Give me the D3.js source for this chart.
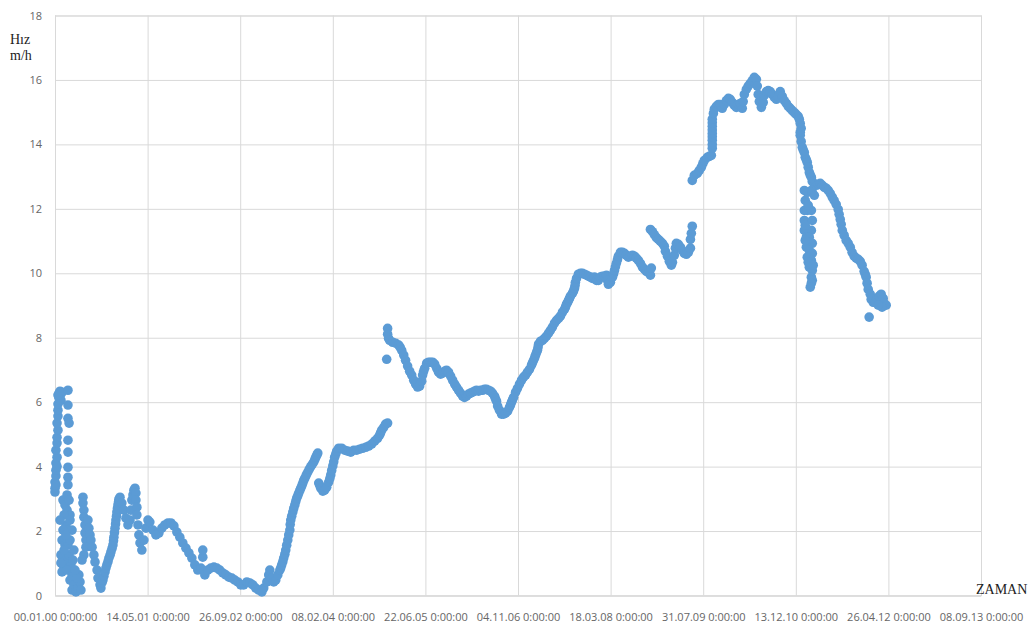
<!DOCTYPE html>
<html>
<head>
<meta charset="utf-8">
<script src="https://cdn.jsdelivr.net/npm/d3@7"></script>
<style>
  html, body { margin: 0; padding: 0; background: #fff; }
  svg { display: block; }
</style>
</head>
<body>
<svg id="chart" width="1035" height="627"></svg>
<script>
// Axis tick positions (day serials) and their labels
const tickDays = [0, 500, 1000, 1500, 2000, 2500, 3000, 3500, 4000, 4500, 5000];
const tickLabels = [
  "00.01.00 0:00:00", "14.05.01 0:00:00", "26.09.02 0:00:00", "08.02.04 0:00:00",
  "22.06.05 0:00:00", "04.11.06 0:00:00", "18.03.08 0:00:00", "31.07.09 0:00:00",
  "13.12.10 0:00:00", "26.04.12 0:00:00", "08.09.13 0:00:00"
];
const speedTicks = [0, 2, 4, 6, 8, 10, 12, 14, 16, 18];

// Readings as [day, speed m/h]
const startupBurst = [
  [0,3.33],[0,3.52],[0,3.21],[5,3.43],[5,3.71],[5,3.89],[5,4.11],[11,4.0],[11,4.29],[5,4.51],
  [11,4.73],[11,4.91],[16,5.13],[11,5.35],[16,5.57],[16,5.75],[16,5.94],[22,6.12],[22,6.28],
  [27,6.34],[32,6.25],[38,6.31],[32,6.06],[16,6.22],
  [70,6.37],[70,5.91],[70,5.50],[76,5.35],[70,4.82],[70,4.45],[70,3.98],[70,3.67],[70,3.43],[65,3.12],
  [43,2.96],[54,2.81],[65,2.65],[76,2.96],[81,2.50],[49,2.50],[59,2.19],[70,2.03],[43,2.03],[38,1.72],
  [54,1.57],[70,1.57],[81,1.72],[32,1.26],[43,0.95],[38,0.73],[59,1.10],[76,1.26],[86,0.95],[65,0.79],
  [97,1.10],[92,0.64],[81,0.48],[102,0.33],[92,0.17],[113,0.11],[124,0.23],[135,0.42],[129,0.64],
  [140,0.17],[119,0.54],[108,0.79],[102,1.41],[92,2.03],[81,2.34],[59,1.88],[49,1.41],[27,2.34],[32,1.01],
  [151,3.05],[151,2.87],[156,2.65],[156,2.43],[162,2.19],[162,1.94],[167,1.72],[167,1.50],[156,1.26],[146,1.10]
];

const lowPeriod = [
  [178,2.34],[183,2.09],[189,1.88],[194,1.72],[200,1.50],[210,1.26],[216,1.04],[227,0.79],[232,0.54],
  [243,0.33],[248,0.23],[254,0.40],[259,0.48],[264,0.60],[270,0.73],[275,0.85],[280,0.95],[286,1.05],
  [291,1.16],[297,1.25],[302,1.35],[308,1.46],[313,1.57],[316,1.70],[318,1.81],[321,1.95],
  [324,2.09],[327,2.22],[329,2.34],[332,2.46],[334,2.59],[337,2.70],[340,2.81],[343,2.90],[345,2.99],
  [351,3.05],[361,2.87],[372,2.65],[383,2.40],
  [394,2.19],[405,2.34],[410,2.65],[415,2.96],[421,3.12],[426,3.27],[432,3.33],[437,3.18],[437,2.96],
  [442,2.74],[442,2.50],[448,2.19],[453,1.88],[459,1.63],[469,1.41],[480,1.72],[491,2.09],[502,2.34],
  [512,2.28],[529,2.03],[545,1.88],[561,1.94],[577,2.09],[593,2.19],[610,2.25],[626,2.25],[642,2.16],
  [658,1.97],[674,1.81],[690,1.63],[707,1.47],[723,1.32],[739,1.16],[755,0.95],[771,0.79],[788,0.85],
  [798,1.19],[798,1.41],[809,0.64],[825,0.79],[841,0.85],[858,0.88],[874,0.85],[890,0.79],[906,0.70],
  [922,0.64],[939,0.57],[955,0.54],[971,0.48],[987,0.42],[1003,0.33],[1019,0.33],[1036,0.42],[1052,0.39],
  [1068,0.33],[1084,0.23],[1100,0.17],[1117,0.11],[1127,0.23],[1144,0.42],[1154,0.64],[1160,0.79],
  [1171,0.54],[1181,0.42],[1192,0.48],[1203,0.64],[1214,0.79],[1219,0.86],[1224,0.95],[1230,1.05],
  [1235,1.16],[1241,1.28],[1246,1.41],[1251,1.56],[1257,1.72],[1262,1.88],[1268,2.03],[1270,2.20],
  [1273,2.34],[1278,2.46],[1284,2.59],[1289,2.70],[1295,2.81],[1300,2.92],[1305,3.02],[1311,3.10],
  [1316,3.18],[1322,3.26],[1327,3.33],[1333,3.41],[1338,3.49],[1343,3.57],[1349,3.64],[1357,3.74],
  [1365,3.83],[1373,3.92],[1381,4.0],[1389,4.07],[1397,4.14],[1403,4.22],[1408,4.29],[1414,4.36],[1419,4.42]
];

const plateau = [
  [1424,3.49],[1430,3.41],[1435,3.33],[1446,3.24],[1456,3.27],[1467,3.36],[1478,3.52],[1484,3.63],
  [1489,3.74],[1494,3.88],[1500,4.02],[1505,4.15],[1510,4.29],[1516,4.39],[1521,4.48],[1532,4.57],
  [1548,4.57],[1564,4.51],[1580,4.48],[1597,4.45],[1613,4.51],[1629,4.51],[1645,4.54],[1661,4.57],
  [1678,4.60],[1694,4.64],[1710,4.70],[1726,4.79],[1742,4.88],[1753,4.98],[1758,5.05],[1764,5.13],
  [1775,5.22],[1785,5.32],[1796,5.35]
];

const midRun = [
  [1796,8.29],[1796,8.11],[1791,7.33],[1801,7.98],[1807,7.92],[1823,7.86],[1839,7.83],[1856,7.77],[1864,7.70],
  [1872,7.61],[1883,7.46],[1893,7.30],[1904,7.12],[1915,6.96],[1926,6.84],[1937,6.68],[1947,6.56],[1958,6.47],
  [1969,6.50],[1980,6.65],[1985,6.84],[1990,6.95],[1996,7.05],[2007,7.21],[2017,7.24],[2028,7.24],[2039,7.24],
  [2050,7.18],[2061,7.05],[2071,6.93],[2082,6.87],[2093,6.90],[2104,6.96],[2114,6.99],[2125,6.93],
  [2136,6.81],[2147,6.68],[2158,6.56],[2168,6.47],[2179,6.37],[2190,6.28],[2201,6.19],[2211,6.15],
  [2222,6.19],[2233,6.25],[2244,6.28],[2255,6.31],[2265,6.34],[2276,6.37],[2287,6.34],[2298,6.37],
  [2309,6.37],[2319,6.40],[2330,6.40],[2341,6.37],[2352,6.34],[2362,6.28],[2373,6.19],[2378,6.11],[2384,6.03],
  [2390,5.88],[2400,5.75],[2411,5.63],[2422,5.63],[2433,5.66],[2444,5.72],[2454,5.84],[2460,5.92],[2465,6.0],
  [2471,6.08],[2476,6.15],[2487,6.31],[2497,6.43],[2508,6.56],[2519,6.68],[2530,6.78],[2541,6.84],[2551,6.93],
  [2562,7.02],[2573,7.15],[2578,7.22],[2584,7.30],[2590,7.38],[2595,7.46],[2600,7.54],[2605,7.61],[2608,7.70],
  [2611,7.80],[2622,7.89],[2632,7.92],
  [2643,7.98],[2654,8.05],[2665,8.14],[2675,8.23],[2686,8.33],[2697,8.45],[2708,8.54],[2719,8.60],
  [2729,8.67],[2740,8.79],[2751,8.88],[2757,8.96],[2762,9.04],[2768,9.10],[2773,9.16],[2778,9.22],
  [2783,9.29],[2794,9.38],[2800,9.45],[2805,9.53],[2808,9.62],
  [2810,9.72],[2816,9.84],[2826,9.97],[2837,10.0],[2848,10.0],[2859,9.97],[2870,9.94],[2880,9.91],
  [2891,9.88],[2902,9.84],[2913,9.88],[2924,9.78],[2934,9.78],[2945,9.88],[2956,9.91],[2967,9.91],
  [2978,9.94],[2983,9.78],[2988,9.66],[2999,9.72],[3010,9.88],[3016,9.98],[3021,10.09],[3026,10.20],
  [3031,10.31],[3037,10.42],[3042,10.53],
  [3053,10.65],[3064,10.65],[3075,10.62],[3085,10.56],[3096,10.50],[3107,10.53],[3118,10.56],
  [3129,10.53],[3139,10.47],[3150,10.40],[3161,10.31],[3172,10.19],[3183,10.12],[3193,10.06],
  [3204,10.03],[3215,9.94],[3220,10.16]
];

const riseRun = [
  [3215,11.36],[3226,11.29],[3236,11.20],[3247,11.11],[3258,11.05],[3269,10.99],[3280,10.93],[3290,10.84],
  [3296,10.68],[3307,10.53],[3317,10.37],[3328,10.25],[3334,10.34],[3344,10.56],[3350,10.78],[3355,10.93],
  [3366,10.90],[3377,10.81],[3387,10.71],[3398,10.62],[3409,10.59],[3420,10.65],[3431,10.78],[3431,11.05],
  [3436,11.24],[3441,11.46],
  [3441,12.88],[3452,13.04],[3468,13.10],[3479,13.19],[3490,13.29],[3498,13.40],[3506,13.50],[3522,13.60],[3533,13.63],
  [3544,13.66],[3549,13.88],[3549,14.0],[3549,14.13],[3549,14.24],[3549,14.34],[3549,14.45],[3549,14.56],
  [3549,14.67],[3549,14.78],[3555,14.96],[3560,15.09],
  [3571,15.18],[3582,15.24],[3592,15.24],[3603,15.12],[3614,15.24],[3625,15.36],[3636,15.43],[3646,15.40],
  [3657,15.30],[3668,15.21],[3679,15.15],[3690,15.24],[3700,15.27],[3711,15.12],[3716,15.33],[3722,15.55],
  [3733,15.71],[3743,15.81],[3754,15.89],[3765,15.98],[3776,16.08],[3787,16.02],[3792,15.81],[3797,15.55],
  [3803,15.33],[3814,15.15],[3824,15.30],[3830,15.52],[3841,15.64],[3851,15.67],[3862,15.64],[3873,15.55],
  [3884,15.46],[3895,15.40],[3905,15.49],[3916,15.64],[3927,15.49],[3938,15.36],[3949,15.27],[3959,15.18],
  [3970,15.12],[3981,15.05],[3992,14.99],[4002,14.93],[4013,14.87],[4019,14.78],[4024,14.65],[4029,14.50]
];

const declineRun = [
  [4024,14.38],[4024,14.28],[4029,14.09],[4035,13.91],[4040,13.83],[4046,13.75],[4051,13.60],[4057,13.52],
  [4062,13.44],[4067,13.29],[4073,13.13],[4078,13.05],
  [4084,12.98],[4089,12.85],[4100,12.76],[4111,12.73],[4121,12.76],[4132,12.79],[4143,12.73],[4154,12.67],
  [4164,12.64],[4175,12.57],[4186,12.48],[4197,12.36],[4207,12.26],[4218,12.14],[4229,11.98],[4234,11.83],
  [4240,11.67],[4245,11.52],[4251,11.33],[4261,11.18],[4272,11.02],[4283,10.93],[4294,10.81],[4304,10.65],
  [4315,10.53],[4326,10.47],[4337,10.43],[4348,10.37],[4358,10.25],[4369,10.06],[4375,9.97],[4380,9.88],[4385,9.69],
  [4391,9.50],[4402,9.35],[4407,9.19],[4418,9.10],[4428,9.10],[4439,9.22],[4450,9.29],[4461,9.35],
  [4472,9.22],[4477,9.07],[4488,9.01],[4466,8.95],[4445,9.01],[4396,8.64]
];

const scatterDrop = [
  [4046,12.57],[4062,12.51],[4084,12.57],[4089,12.51],[4100,12.42],[4046,11.95],[4062,11.95],[4084,11.95],
  [4046,11.64],[4089,11.64],[4046,11.33],[4084,11.33],[4057,11.12],[4073,11.12],[4089,10.93],[4057,10.81],
  [4073,10.71],[4089,10.62],[4062,10.50],[4084,10.40],[4073,10.19],[4089,10.09],[4084,9.88],[4089,9.78],
  [4084,9.69],[4078,9.57],[4051,12.26],[4067,12.11],[4051,11.02],[4067,10.34],[4094,10.25],[4051,11.49]
];

const readings = [].concat(startupBurst, lowPeriod, plateau, midRun, riseRun, declineRun, scatterDrop);

const svg = d3.select("#chart");
const plotLeft = 55, plotRight = 981, plotTop = 15.5, plotBottom = 595.5;

const x = d3.scaleLinear().domain([0, 5000]).range([plotLeft, plotRight]);
const y = d3.scaleLinear().domain([0, 18]).range([plotBottom, plotTop]);

const gridColor = "#d9d9d9";
const labelFont = "'Open Sans', sans-serif";

// Horizontal grid + speed labels
const yAxis = d3.axisLeft(y)
  .tickValues(speedTicks)
  .tickSize(-(plotRight - plotLeft))
  .tickPadding(13)
  .tickFormat(d3.format("d"));
const gy = svg.append("g").attr("transform", `translate(${plotLeft},0)`).call(yAxis);
gy.select(".domain").attr("stroke", gridColor);
gy.selectAll(".tick line").attr("stroke", gridColor).attr("stroke-width", 1);
gy.selectAll(".tick text")
  .attr("fill", "#666").attr("font-family", labelFont).attr("font-size", 11);

// Vertical grid + date labels
const xAxis = d3.axisBottom(x)
  .tickValues(tickDays)
  .tickSize(-(plotBottom - plotTop))
  .tickPadding(18)
  .tickFormat((d, i) => tickLabels[i]);
const gx = svg.append("g").attr("transform", `translate(0,${plotBottom})`).call(xAxis);
gx.select(".domain").attr("stroke", gridColor);
gx.selectAll(".tick line").attr("stroke", gridColor).attr("stroke-width", 1);
gx.selectAll(".tick text")
  .attr("fill", "#666").attr("font-family", labelFont).attr("font-size", 11);

// Data points
svg.append("g")
  .selectAll("circle")
  .data(readings)
  .join("circle")
  .attr("cx", d => x(d[0]))
  .attr("cy", d => y(d[1]))
  .attr("r", 4.8)
  .attr("fill", "#5b9bd5");

// Axis titles
const titleFont = "'Liberation Serif', 'Times New Roman', serif";
svg.append("text").attr("x", 10).attr("y", 44)
  .attr("font-family", titleFont).attr("font-size", 14).attr("fill", "#222").text("Hız");
svg.append("text").attr("x", 10).attr("y", 60)
  .attr("font-family", titleFont).attr("font-size", 14).attr("fill", "#222").text("m/h");
svg.append("text").attr("x", 976).attr("y", 594)
  .attr("font-family", titleFont).attr("font-size", 14).attr("fill", "#222").text("ZAMAN");
</script>
</body>
</html>
